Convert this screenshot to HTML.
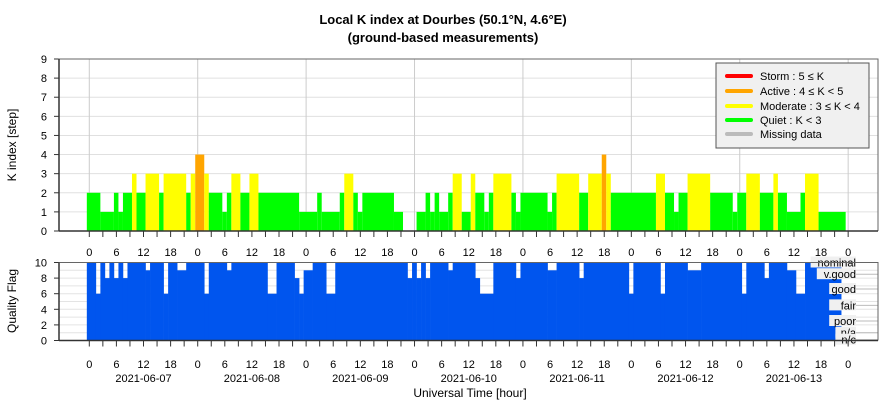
<!DOCTYPE html>
<html><head><meta charset="utf-8"><style>
html,body{margin:0;padding:0;background:#fff;}
svg{display:block;font-family:"Liberation Sans",sans-serif;}
</style></head><body>
<svg id="chart" width="886" height="400" viewBox="0 0 886 400">
<text x="443" y="24" text-anchor="middle" font-size="13" font-weight="bold">Local K index at Dourbes (50.1°N, 4.6°E)</text>
<text x="443" y="42" text-anchor="middle" font-size="13" font-weight="bold">(ground-based measurements)</text>
<g id="topPanel"></g>
<g id="botPanel"></g>
<text transform="translate(16,145) rotate(-90)" text-anchor="middle" font-size="12">K index [step]</text>
<text transform="translate(16,301) rotate(-90)" text-anchor="middle" font-size="12">Quality Flag</text>
<text x="470" y="397" text-anchor="middle" font-size="12">Universal Time [hour]</text>
<g>
<rect x="716" y="63" width="153" height="85" fill="#f0f0f0" stroke="#555" stroke-width="1"/>
<line x1="727" y1="76" x2="751" y2="76" stroke="#ff0000" stroke-width="4" stroke-linecap="round"/>
<text x="760" y="80" font-size="11">Storm : 5 ≤ K</text>
<line x1="727" y1="91" x2="751" y2="91" stroke="#ffa500" stroke-width="4" stroke-linecap="round"/>
<text x="760" y="95" font-size="11">Active : 4 ≤ K &lt; 5</text>
<line x1="727" y1="106" x2="751" y2="106" stroke="#ffff00" stroke-width="4" stroke-linecap="round"/>
<text x="760" y="110" font-size="11">Moderate : 3 ≤ K &lt; 4</text>
<line x1="727" y1="120" x2="751" y2="120" stroke="#00ff00" stroke-width="4" stroke-linecap="round"/>
<text x="760" y="124" font-size="11">Quiet : K &lt; 3</text>
<line x1="727" y1="134" x2="751" y2="134" stroke="#bbbbbb" stroke-width="4" stroke-linecap="round"/>
<text x="760" y="138" font-size="11">Missing data</text>
</g>
</svg>
<script>
// K index runs: start hour (from 2021-06-07 00 UT) and K value
const kStart = [-1,2,5,6,7,9,10,12,15,16,21,22,23,25,26,29,30,31,33,35,37,46,50,51,55,56,58,59,60,67,69,72,74,75,76,77,79,80,82,84,85,87,88,89,93,94,95,101,102,103,108,110,113,114,115,125,127,129,130,132,137,142,143,145,148,151,152,154,157,158,161];
const kValue = [2,1,2,1,2,3,2,3,2,3,2,3,4,3,2,1,2,3,2,3,2,1,2,1,2,3,2,1,2,1,0,1,2,1,2,1,2,3,1,3,2,1,2,3,2,1,2,1,2,3,2,3,4,3,2,3,2,1,2,3,2,1,2,3,2,3,2,1,2,3,1];
const kEnd = 167;
// Quality flag runs
const qStart = [-1,1,2,3,4,5,6,7,8,12,13,16,17,19,21,25,26,30,31,39,41,45,46,47,49,52,54,70,71,72,73,74,75,79,80,85,86,89,94,95,101,103,108,109,119,120,126,127,132,135,144,145,149,150,154,156,158];
const qValue = [10,6,10,8,10,8,10,8,10,9,10,6,10,9,10,6,10,9,10,6,10,8,6,9,10,6,10,8,10,8,10,8,10,9,10,8,6,10,8,10,9,10,8,10,6,10,6,10,9,10,6,10,8,10,9,6,10];
const qEnd = 166;
const hourTicks = [0,6,12,18,0,6,12,18,0,6,12,18,0,6,12,18,0,6,12,18,0,6,12,18,0,6,12,18,0];
const dateLabels = ["2021-06-07","2021-06-08","2021-06-09","2021-06-10","2021-06-11","2021-06-12","2021-06-13"];
const kTicks = [0,1,2,3,4,5,6,7,8,9];
const qTicks = [0,2,4,6,8,10];
const qLevelNames = ["nominal","v.good","good","fair","poor","n/a","n/c"];
const qLevelVals = [10,8.5,6.6,4.5,2.5,1,0.1];

const NS="http://www.w3.org/2000/svg";
const L=59,R=878,X0=89.3,PXH=4.517,OFF=0.45;
const xs=h=>X0+h*PXH;
const TT=59,TB=231,yk=v=>TB-(TB-TT)*v/9;
const BT=262.5,BB=340.5,yq=v=>BB-(BB-BT)*v/10;
function el(p,tag,a){const e=document.createElementNS(NS,tag);for(const k in a)e.setAttribute(k,a[k]);p.appendChild(e);return e;}
const topG=document.getElementById('topPanel'),botG=document.getElementById('botPanel');
function kColor(v){return v>=5?'#ff0000':v>=4?'#ffa500':v>=3?'#ffff00':'#00ff00';}

el(topG,'rect',{x:L,y:TT,width:R-L,height:TB-TT,fill:'#fff'});
kTicks.forEach(v=>{
  const g=el(topG,'line',{x1:L,x2:R,y1:yk(v),y2:yk(v),stroke:'#e0e0e0','stroke-width':1});
  
  
  el(topG,'line',{x1:L-5,x2:L,y1:yk(v),y2:yk(v),stroke:'#333'});
  const tx=el(topG,'text',{x:L-12,y:yk(v)+4,'text-anchor':'end','font-size':11});
  tx.textContent=v;
  
  
});
for(let d=0;d<=7;d++){
  el(topG,'line',{x1:xs(d*24),x2:xs(d*24),y1:TT,y2:TB,stroke:'#cccccc'});
}
for(let i=0;i<kStart.length;i++){
  const v=kValue[i]; if(!v) continue;
  const s=kStart[i]+OFF, e=(i+1<kStart.length?kStart[i+1]:kEnd)+OFF;
  const r=el(topG,'rect',{x:xs(s),y:yk(v),width:xs(e)-xs(s),height:TB-yk(v),fill:kColor(v)});
  
  
}
el(topG,'polyline',{points:`${L},${TB} ${L},${TT} ${R},${TT} ${R},${TB}`,fill:'none',stroke:'#666','stroke-width':1});
el(topG,'line',{x1:L,x2:R,y1:TB,y2:TB,stroke:'#333','stroke-width':1.5});
el(topG,'line',{x1:L,x2:L,y1:TT,y2:TB,stroke:'#333','stroke-width':1.5});
for(let h=0;h<=168;h+=3){el(topG,'line',{x1:xs(h),x2:xs(h),y1:TB,y2:TB+6,stroke:'#333'});}
hourTicks.forEach((t,i)=>{
  const tx=el(topG,'text',{x:xs(i*6),y:256,'text-anchor':'middle','font-size':11});
  tx.textContent=t;
  
  
});

el(botG,'rect',{x:L,y:BT,width:R-L,height:BB-BT,fill:'#fff'});
for(let v=0;v<=10;v++){el(botG,'line',{x1:L,x2:R,y1:yq(v),y2:yq(v),stroke:'#e4e4e4'});}
qTicks.forEach(v=>{
  el(botG,'line',{x1:L-5,x2:L,y1:yq(v),y2:yq(v),stroke:'#333'});
  const tx=el(botG,'text',{x:L-12,y:yq(v)+4,'text-anchor':'end','font-size':11});
  tx.textContent=v;
  
  
});
for(let i=0;i<qStart.length;i++){
  const v=qValue[i];
  const s=qStart[i]+OFF, e=(i+1<qStart.length?qStart[i+1]:qEnd)+OFF;
  const r=el(botG,'rect',{x:xs(s),y:yq(v),width:xs(e)-xs(s)+0.3,height:BB-yq(v),fill:'#0055ee'});
  
  
}
qLevelNames.forEach((n,i)=>{
  const yy=yq(qLevelVals[i]);
  el(botG,'line',{x1:850,x2:878,y1:yy,y2:yy,stroke:'#bbb'});
  const w=n.length*6.2+2;
  el(botG,'rect',{x:856-w,y:yy-6,width:w,height:11,fill:'#f0f0f0'});
  const tx=el(botG,'text',{x:856,y:yy+4,'text-anchor':'end','font-size':11});
  tx.textContent=n;
  
  
});
el(botG,'polyline',{points:`${L},${BB} ${L},${BT} ${R},${BT} ${R},${BB}`,fill:'none',stroke:'#666'});
el(botG,'line',{x1:L,x2:R,y1:BB,y2:BB,stroke:'#333','stroke-width':1.5});
el(botG,'line',{x1:L,x2:L,y1:BT,y2:BB,stroke:'#333','stroke-width':1.5});
for(let h=0;h<=168;h+=3){el(botG,'line',{x1:xs(h),x2:xs(h),y1:BB,y2:BB+6,stroke:'#333'});}
hourTicks.forEach((t,i)=>{
  const tx=el(botG,'text',{x:xs(i*6),y:368,'text-anchor':'middle','font-size':11});
  tx.textContent=t;
  
  
});
dateLabels.forEach((d,i)=>{
  const tx=el(botG,'text',{x:xs(i*24+12),y:382,'text-anchor':'middle','font-size':11});
  tx.textContent=d;
  
  
});
</script>
</body></html>
